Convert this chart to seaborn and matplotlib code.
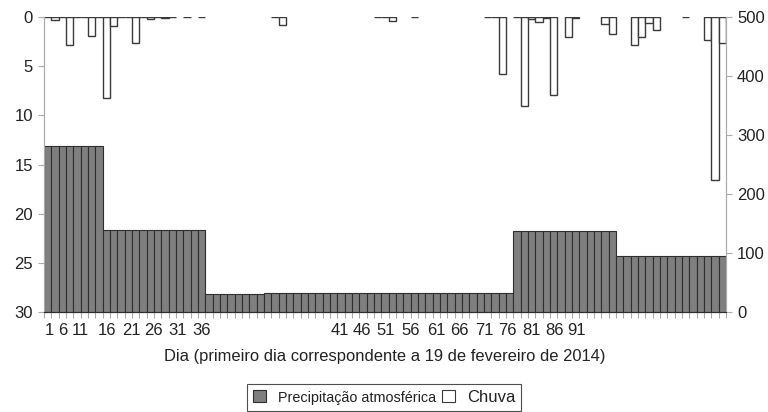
import numpy as np
import pandas as pd
import matplotlib.pyplot as plt
import seaborn as sns
from matplotlib.patches import Patch
from matplotlib.ticker import FixedLocator

# Data
days = list(range(1, 94))
precip = [282] * 8 + [139] * 14 + [31] * 8 + [33] * 34 + [138] * 14 + [95] * 15
nan = np.nan
rain = [0, 0.3, 0, 2.8, 0, 0, 1.9, 0, 8.2, 0.9,
        0, 0, 2.6, 0, 0.2, 0, 0.1, 0, nan, 0,
        nan, 0, nan, nan, nan, nan, nan, nan, nan, nan,
        nan, 0, 0.8, nan, nan, nan, nan, nan, nan, nan,
        nan, nan, nan, nan, nan, 0, 0, 0.4, nan, nan,
        0, nan, nan, nan, nan, nan, nan, nan, nan, nan,
        0, 0, 5.8, nan, 0, 9.0, 0.2, 0.5, 0.1, 7.9,
        nan, 2.0, 0.1, nan, nan, nan, 0.7, 1.7, nan, nan,
        2.8, 2.0, 0.65, 1.3, nan, nan, nan, 0, nan, nan,
        2.3, 16.6, 2.65]
tick_labels_a = ['1', '6', '11', '16', '21', '26', '31', '36']
tick_labels_b = ['41', '46', '51', '56', '61', '66', '71', '76', '81', '86', '91']
legend_labels = ['Precipitação atmosférica', 'Chuva']

df = pd.DataFrame({'dia': days, 'precip': precip, 'chuva': rain})

sns.set_style('white')
plt.rcParams['font.family'] = ['Liberation Sans', 'DejaVu Sans']

fig = plt.figure(figsize=(7.68, 4.12), dpi=100)
ax = fig.add_axes([0.0573, 0.2427, 0.888, 0.716])
ax2 = ax.twinx()

# precipitation bars on the right axis
sns.barplot(data=df, x='dia', y='precip', order=days, ax=ax2, color='#7f7f7f',
            edgecolor='#2e2e2e', linewidth=0.8, width=1.0, saturation=1,
            errorbar=None)
# rain bars hanging from the top, left axis inverted
sns.barplot(data=df, x='dia', y='chuva', order=days, ax=ax, color='white',
            edgecolor='#3a3a3a', linewidth=1.0, width=1.0, saturation=1,
            errorbar=None)

ax.set_ylim(30, 0)
ax2.set_ylim(0, 500)
ax.set_xlim(-0.5, 92.5)

ax.set_yticks(range(0, 31, 5))
ax2.set_yticks(range(0, 501, 100))

# tick label positions (layout only)
pos_a = [0.18, 2.09, 4.41, 8.09, 11.36, 14.36, 17.77, 21.05]
pos_b = [39.86, 42.86, 46.14, 49.55, 52.96, 56.09, 59.5, 62.64, 65.91, 69.05, 72.18]
ax.set_xticks(pos_a + pos_b)
ax.set_xticklabels(tick_labels_a + tick_labels_b)
ax.xaxis.set_minor_locator(FixedLocator(np.arange(-0.5, 93, 1.0)))
ax.tick_params(axis='x', which='major', length=0, pad=8, labelsize=12,
               labelcolor='#222222')
ax.tick_params(axis='x', which='minor', length=4, width=0.8, color='#aaaaaa',
               bottom=True)
ax.tick_params(axis='y', which='major', length=4, width=0.8, color='#aaaaaa',
               labelsize=12, labelcolor='#222222', left=True, pad=4)
ax2.tick_params(axis='y', which='major', length=4, width=0.8, color='#aaaaaa',
                labelsize=12, labelcolor='#222222', right=True, pad=4)

ax.set_ylabel('')
ax2.set_ylabel('')
ax2.set_xlabel('')
ax.set_xlabel('Dia (primeiro dia correspondente a 19 de fevereiro de 2014)',
              fontsize=11.9, color='#222222', labelpad=8)

for a in (ax, ax2):
    a.spines['top'].set_visible(False)
    a.spines['left'].set_color('#aaaaaa')
    a.spines['right'].set_color('#aaaaaa')
    a.spines['bottom'].set_color('#2e2e2e')
    a.grid(False)

handles = [Patch(facecolor='#7f7f7f', edgecolor='#2e2e2e', linewidth=0.8),
           Patch(facecolor='white', edgecolor='#3a3a3a', linewidth=0.8)]
leg = fig.legend(handles, legend_labels, loc='center', bbox_to_anchor=(0.5, 0.036),
                 ncol=2, frameon=True, fancybox=False, edgecolor='#222222',
                 handlelength=0.8, handleheight=0.8, handletextpad=0.7,
                 columnspacing=0.35, borderpad=0.35, fontsize=12)
leg.get_frame().set_linewidth(0.8)
leg.get_texts()[0].set_fontsize(10.4)
for t in leg.get_texts():
    t.set_color('#222222')

fig.savefig('out.png', dpi=100)
